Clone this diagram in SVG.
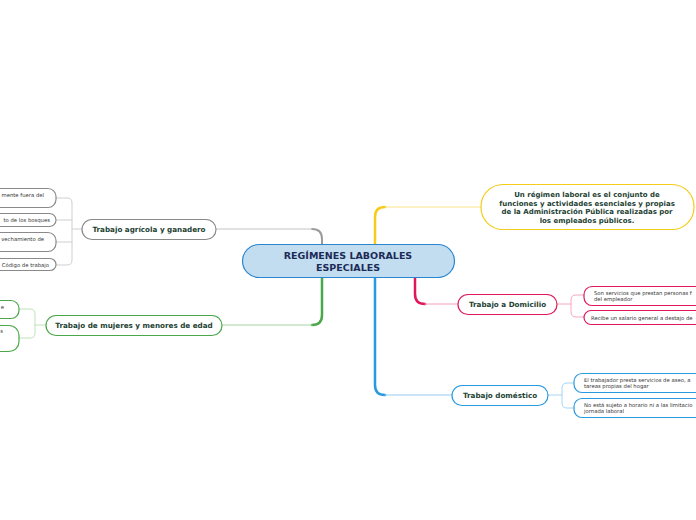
<svg xmlns="http://www.w3.org/2000/svg" width="696" height="520" viewBox="0 0 696 520">
<style>
text{font-family:"DejaVu Sans","Verdana",sans-serif}
.t{font-weight:bold;fill:#1d3f33;font-size:7.2px;text-anchor:middle}
.c{font-weight:bold;fill:#1b2b57;font-size:9.5px;text-anchor:middle}
.y{font-weight:bold;fill:#1d3f33;font-size:7px;text-anchor:middle}
.l{fill:#333;font-size:5.3px}
.n{fill:#fff;stroke-width:1.2}
</style>
<rect width="696" height="520" fill="#fff"/>
<g id="connectors" fill="none" stroke-linecap="round">
  <path d="M375 244 V217 Q375 207 385 207" stroke="#f5cc1a" stroke-width="2.5"/>
  <path d="M385 207 H481" stroke="#fae28a" stroke-width="1"/>
  <path d="M415 277 V294 Q415 304 425 304" stroke="#e0185a" stroke-width="2.5"/>
  <path d="M425 304 H458" stroke="#f3a0bd" stroke-width="1.2"/>
  <path d="M375 277 V385 Q375 395 385 395" stroke="#2a9ae0" stroke-width="2.5"/>
  <path d="M385 395 H452" stroke="#93cbf0" stroke-width="1.2"/>
  <path d="M322 244 V239 Q322 229 312 229" stroke="#9a9a9a" stroke-width="2"/>
  <path d="M312 229 H216" stroke="#c4c4c4" stroke-width="1"/>
  <path d="M322 277 V315 Q322 325 312 325" stroke="#4aa84a" stroke-width="2.5"/>
  <path d="M312 325 H222" stroke="#a6d6a0" stroke-width="1.2"/>
  <g stroke="#cfcfcf" stroke-width="1">
    <path d="M82 229 H72"/>
    <path d="M56 198 H67 Q72 198 72 203 V260 Q72 265 67 265 H56"/>
    <path d="M56 220 H72"/>
    <path d="M56 242 H72"/>
  </g>
  <g stroke="#bfe3b8" stroke-width="1">
    <path d="M46 325 H35"/>
    <path d="M19 309 H30 Q35 309 35 314 V333 Q35 338 30 338 H19"/>
  </g>
  <g stroke="#f3a8c2" stroke-width="1">
    <path d="M557 304 H571"/>
    <path d="M584 295 H576 Q571 295 571 300 V312 Q571 317 576 317 H584"/>
  </g>
  <g stroke="#a6d4f2" stroke-width="1">
    <path d="M548 395 H562"/>
    <path d="M574 383 H567 Q562 383 562 388 V403 Q562 408 567 408 H574"/>
  </g>
</g>
<g id="central">
  <rect x="242.5" y="244.5" width="212" height="33" rx="16.5" fill="#c3ddf0" stroke="#2a86d0" stroke-width="1.2"/>
  <text class="c" x="348" y="259">REGÍMENES LABORALES</text>
  <text class="c" x="348" y="271">ESPECIALES</text>
</g>
<g id="definicion">
  <rect class="n" x="481" y="184.5" width="213" height="45" rx="22" stroke="#f5cc1a"/>
  <text class="y" x="587" y="197">Un régimen laboral es el conjunto de</text>
  <text class="y" x="587" y="205.5">funciones y actividades esenciales y propias</text>
  <text class="y" x="587" y="214">de la Administración Pública realizadas por</text>
  <text class="y" x="587" y="222.5">los empleados públicos.</text>
</g>
<g id="domicilio">
  <rect class="n" x="458" y="294.5" width="99" height="20" rx="10" stroke="#e0185a"/>
  <text class="t" x="507.5" y="307">Trabajo a Domicilio</text>
</g>
<g id="domicilio-1">
  <rect class="n" x="584" y="286.5" width="130" height="19" rx="8" stroke="#e0185a"/>
  <text class="l" x="594" y="294.5">Son servicios que prestan personas f</text>
  <text class="l" x="594" y="301">del empleador</text>
</g>
<g id="domicilio-2">
  <rect class="n" x="584" y="310.5" width="130" height="14" rx="7" stroke="#e0185a"/>
  <text class="l" x="591" y="319.5">Recibe un salario general a destajo de</text>
</g>
<g id="domestico">
  <rect class="n" x="452" y="385.5" width="96" height="20" rx="10" stroke="#2a9ae0"/>
  <text class="t" x="500" y="398">Trabajo doméstico</text>
</g>
<g id="domestico-1">
  <rect class="n" x="574" y="373.5" width="140" height="19" rx="8" stroke="#2a9ae0"/>
  <text class="l" x="584" y="381.5">El trabajador presta servicios de aseo, a</text>
  <text class="l" x="584" y="388">tareas propias del hogar</text>
</g>
<g id="domestico-2">
  <rect class="n" x="574" y="398.5" width="140" height="19" rx="8" stroke="#2a9ae0"/>
  <text class="l" x="584" y="406.5">No está sujeto a horario ni a las limitacio</text>
  <text class="l" x="584" y="413">jornada laboral</text>
</g>
<g id="agricola">
  <rect class="n" x="82" y="219.5" width="134" height="20" rx="10" stroke="#8a8a8a"/>
  <text class="t" x="149" y="232">Trabajo agrícola y ganadero</text>
</g>
<g id="agricola-1">
  <rect class="n" x="-80" y="188.5" width="136" height="19" rx="8" stroke="#8a8a8a"/>
  <text class="l" x="44" y="197" text-anchor="end">mente fuera del</text>
</g>
<g id="agricola-2">
  <rect class="n" x="-80" y="213.5" width="136" height="13" rx="6.5" stroke="#8a8a8a"/>
  <text class="l" x="50" y="222" text-anchor="end">to de los bosques</text>
</g>
<g id="agricola-3">
  <rect class="n" x="-80" y="232.5" width="136" height="19" rx="8" stroke="#8a8a8a"/>
  <text class="l" x="44" y="241" text-anchor="end">vechamiento de</text>
</g>
<g id="agricola-4">
  <rect class="n" x="-80" y="258.5" width="136" height="12" rx="6" stroke="#8a8a8a"/>
  <text class="l" x="49" y="266.5" text-anchor="end">Código de trabajo</text>
</g>
<g id="mujeres">
  <rect class="n" x="46" y="315.5" width="176" height="20" rx="10" stroke="#4aa84a"/>
  <text class="t" x="134" y="328">Trabajo de mujeres y menores de edad</text>
</g>
<g id="mujeres-1">
  <rect class="n" x="-80" y="300.5" width="99" height="18" rx="8" stroke="#4aa84a"/>
  <text class="l" x="4" y="309" text-anchor="end">e</text>
</g>
<g id="mujeres-2">
  <rect class="n" x="-80" y="325.5" width="99" height="26" rx="10" stroke="#4aa84a"/>
  <text class="l" x="3" y="333" text-anchor="end">s</text>
</g>
</svg>
